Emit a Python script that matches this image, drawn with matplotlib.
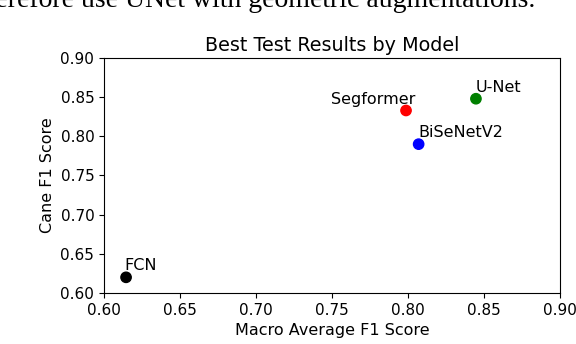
import matplotlib
matplotlib.use('Agg')
import matplotlib.pyplot as plt


MODELS = ['FCN', 'Segformer', 'BiSeNetV2', 'U-Net']
MACRO_F1 = [0.6145, 0.7987, 0.8070, 0.8447]
CANE_F1 = [0.620, 0.833, 0.790, 0.848]
COLORS = ['black', 'red', 'blue', 'green']
# label offsets in points, per model
OFFSETS = [(-1, 5), (-54, 5), (0, 5), (0, 5)]


def plot_results():
    fig = plt.figure(figsize=(5.76, 3.44), dpi=100)
    ax = fig.add_axes([0.1806, 0.1483, 0.7916, 0.6831])
    ax.scatter(MACRO_F1, CANE_F1, c=COLORS, s=55, zorder=3)
    for name, x, y, off in zip(MODELS, MACRO_F1, CANE_F1, OFFSETS):
        ax.annotate(name, (x, y), textcoords='offset points', xytext=off, fontsize=11.5)
    ax.set_xlim(0.60, 0.90)
    ax.set_ylim(0.60, 0.90)
    ax.tick_params(labelsize=11)
    ax.set_title('Best Test Results by Model', fontsize=13.8, pad=5)
    ax.set_xlabel('Macro Average F1 Score', fontsize=11.5, labelpad=4)
    ax.set_ylabel('Cane F1 Score', fontsize=11.5, labelpad=4)

    # cropped caption text from the page above the figure
    fig.text(0.929, 0.981, 'therefore use UNet with geometric augmentations.',
             ha='right', va='baseline', fontsize=20, family='Liberation Serif')
    fig.savefig('out.png', dpi=100)


if __name__ == '__main__':
    plot_results()
